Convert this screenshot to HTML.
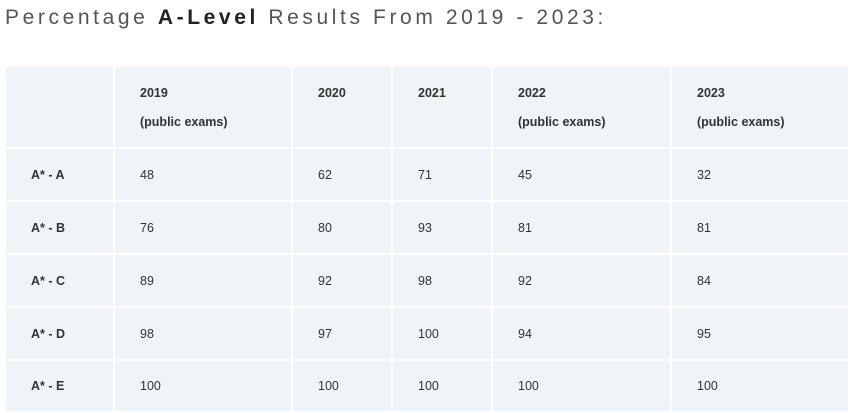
<!DOCTYPE html>
<html><head><meta charset="utf-8"><style>
body{margin:0;width:850px;height:413px;background:#fff;position:relative;overflow:hidden;font-family:"Liberation Sans",sans-serif;}
#title{position:absolute;left:5px;top:6px;font-size:21px;letter-spacing:3.6px;color:#555;white-space:nowrap;font-weight:300}
#title b{color:#222;font-weight:bold}
.c{position:absolute;background:#eff4f8;box-sizing:border-box;color:#333;font-size:12.5px}
.h{font-weight:bold;padding:12px 0 0 25px;line-height:29px}
.v{display:flex;align-items:center;padding-left:25px}
.l{font-weight:bold;}
</style></head><body>
<div id="title">Percentage <b>A-Level</b> Results From 2019 - 2023:</div>
<div id="tbl"></div>
<script>
const years=["2019","2020","2021","2022","2023"];
const subs=["(public exams)","","","(public exams)","(public exams)"];
const grades=["A* - A","A* - B","A* - C","A* - D","A* - E"];
const v2019=[48,76,89,98,100];
const v2020=[62,80,92,97,100];
const v2021=[71,93,98,100,100];
const v2022=[45,81,92,94,100];
const v2023=[32,81,84,95,100];
const series=[v2019,v2020,v2021,v2022,v2023];
const colL=[6,115,293,393,493,672], colR=[113,291,391,491,670,848];
const rowT=[67,149,202,255,308,361], rowB=[147,200,253,306,359,411];
const tbl=document.getElementById('tbl');
function cell(r,c,html,cls,name){
  const d=document.createElement('div');
  d.className='c '+cls;
  d.style.left=colL[c]+'px';d.style.top=rowT[r]+'px';
  d.style.width=(colR[c]-colL[c])+'px';d.style.height=(rowB[r]-rowT[r])+'px';
  d.innerHTML=html;
  
  
  tbl.appendChild(d);
}
cell(0,0,'','h','header-corner');
years.forEach((y,i)=>cell(0,i+1,y+(subs[i]?'<br>'+subs[i]:''),'h','header-'+y));
grades.forEach((g,r)=>{
  cell(r+1,0,g,'v l','row-label');
  series.forEach((s,c)=>cell(r+1,c+1,String(s[r]),'v','value-cell'));
});
</script>
</body></html>
